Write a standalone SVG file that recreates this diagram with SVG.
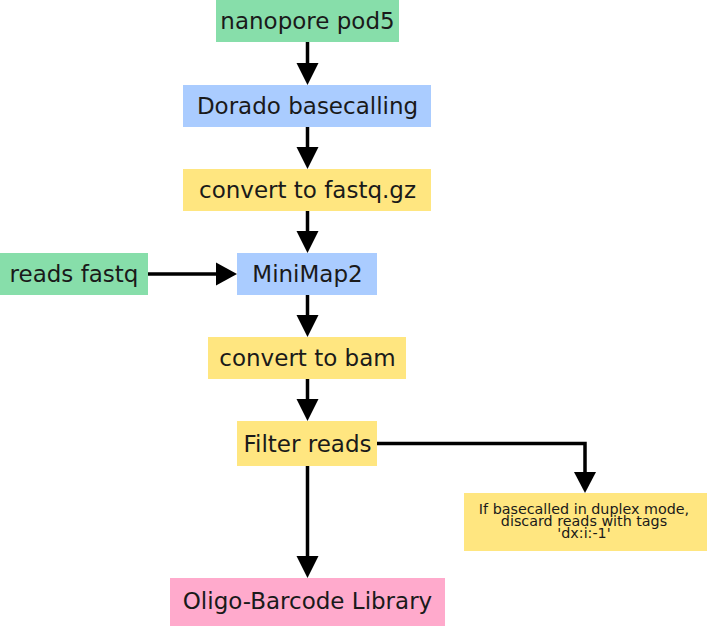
<svg xmlns="http://www.w3.org/2000/svg" width="707" height="626" viewBox="0 0 707 626">
<defs>
<style>
.g{fill:#87deaa}.b{fill:#aaccff}.y{fill:#ffe680}.p{fill:#ffaacc}
text{font-family:"DejaVu Sans",sans-serif;font-size:23px;fill:#1a1a1a;text-anchor:middle}
.s{font-size:14.3px}
.c{stroke:#000;stroke-width:3.5;fill:none}
.h{fill:#000}
</style>
</defs>
<rect width="707" height="626" fill="#fff"/>
<g id="connectors">
<path class="c" d="M307.5 42V64"/><path class="h" d="M296.5 63h22l-11 22z"/>
<path class="c" d="M307.5 127V148"/><path class="h" d="M296.5 147h22l-11 22z"/>
<path class="c" d="M307.5 211V232"/><path class="h" d="M296.5 231h22l-11 22z"/>
<path class="c" d="M148 274H218"/><path class="h" d="M216 262.5v23l21 -11.5z"/>
<path class="c" d="M307.5 295V316"/><path class="h" d="M296.5 315h22l-11 22z"/>
<path class="c" d="M307.5 379V400"/><path class="h" d="M296.5 399h22l-11 22z"/>
<path class="c" d="M307.5 466V557"/><path class="h" d="M296.5 556h22l-11 22z"/>
<path class="c" d="M377 443.5H585V473"/><path class="h" d="M574 472h22l-11 21z"/>
</g>
<g id="n1"><rect class="g" x="216" y="0" width="183" height="42"/><text x="307.5" y="28.5">nanopore pod5</text></g>
<g id="n2"><rect class="b" x="183" y="85" width="248" height="42"/><text x="307.5" y="113.5">Dorado basecalling</text></g>
<g id="n3"><rect class="y" x="183" y="169" width="248" height="42"/><text x="307.5" y="197.5">convert to fastq.gz</text></g>
<g id="n4"><rect class="g" x="0" y="253" width="148" height="42"/><text x="74" y="281.5">reads fastq</text></g>
<g id="n5"><rect class="b" x="237" y="253" width="140" height="42"/><text x="307.5" y="281.5">MiniMap2</text></g>
<g id="n6"><rect class="y" x="208" y="337" width="198" height="42"/><text x="307.5" y="365.5">convert to bam</text></g>
<g id="n7"><rect class="y" x="237" y="421" width="140" height="45"/><text x="307.5" y="452">Filter reads</text></g>
<g id="n8"><rect class="y" x="464" y="493" width="243" height="58"/><text class="s" x="584" y="514">If basecalled in duplex mode,</text><text class="s" x="584" y="526">discard reads with tags</text><text class="s" x="584" y="538">'dx:i:-1'</text></g>
<g id="n9"><rect class="p" x="170" y="578" width="275" height="48"/><text x="307.5" y="608.5">Oligo-Barcode Library</text></g>
</svg>
